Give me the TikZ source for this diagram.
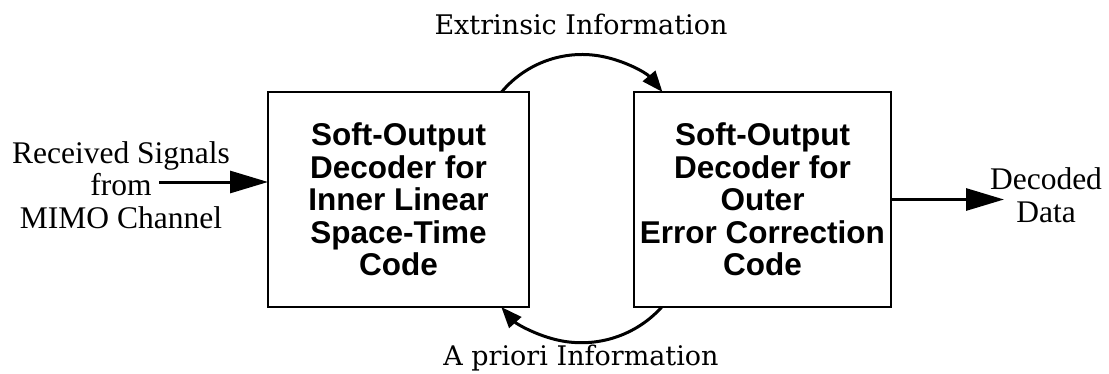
\documentclass[tikz,border=0pt]{standalone}
\usepackage{fontspec}
\setmainfont{Liberation Serif}
\newfontfamily\boxfont{Liberation Sans}
\newfontfamily\labfont{DejaVu Serif}
\usetikzlibrary{arrows.meta}
\begin{document}
\begin{tikzpicture}[x=1pt,y=1pt,
  blockbox/.style={draw, line width=1.3pt, outer sep=0pt, minimum height=215pt,
    align=center, font=\boxfont\bfseries\fontsize{31.5}{32.5}\selectfont},
  sidelabel/.style={align=center, font=\fontsize{31.5}{32.5}\selectfont},
  looplabel/.style={anchor=base, font=\labfont\fontsize{27}{32}\selectfont},
  bigarrow/.style={line width=3pt, -{Triangle[length=38pt,width=22pt]}},
  looparrow/.style={line width=3pt, -{Triangle[length=21pt,width=16pt]}}]
\useasboundingbox (0,0) rectangle (1109,373);
\node[blockbox, minimum width=261pt] (b1) at (398.5,173.5)
  {Soft-Output\\Decoder for\\Inner Linear\\Space-Time\\Code};
\node[blockbox, minimum width=257pt] (b2) at (762.5,173.5)
  {Soft-Output\\Decoder for\\Outer\\Error Correction\\Code};
\node[sidelabel] (inl) at (121,188) {Received Signals\\from\\MIMO Channel};
\node[sidelabel] (outl) at (1046,178) {Decoded\\Data};
\node[looplabel] (ext) at (581,338) {Extrinsic Information};
\node[looplabel] (apr) at (581,8) {A priori Information};
\coordinate (inS) at (159,191);
\coordinate (outE) at (1004,173.5);
\draw[bigarrow] (inS) -- (inS -| b1.west);
\draw[bigarrow] (b2.east) -- (outE);
\coordinate (t1) at ([xshift=-27.4pt]b1.north east);
\coordinate (t2) at ([xshift=27.8pt]b2.south west);
\draw[looparrow] (t1) arc[start angle=140, end angle=40, radius=105];
\draw[looparrow] (t2) arc[start angle=-42, end angle=-138, radius=108];
\end{tikzpicture}
\end{document}
